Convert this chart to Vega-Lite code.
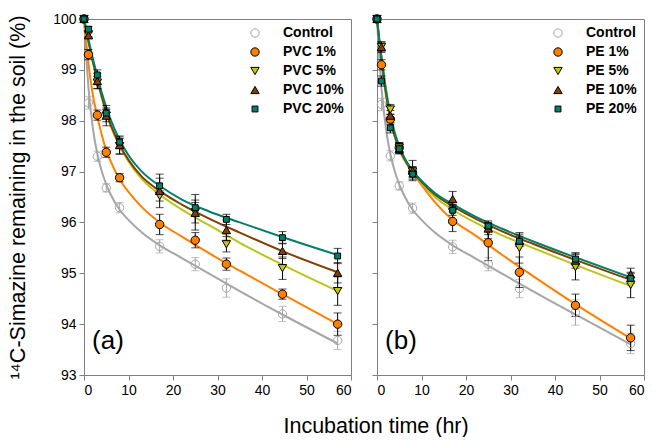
{
 "$schema": "https://vega.github.io/schema/vega-lite/v6.json",
 "padding": {"left": 7, "top": 11, "right": 4, "bottom": 0},
 "datasets": {
  "pts": [
   {"p":"a","s":"Control","t":0,"y":100,"e":0},
   {"p":"a","s":"Control","t":1,"y":98.35,"e":0.12},
   {"p":"a","s":"Control","t":3,"y":97.3,"e":0.1},
   {"p":"a","s":"Control","t":5,"y":96.68,"e":0.08},
   {"p":"a","s":"Control","t":8,"y":96.29,"e":0.1},
   {"p":"a","s":"Control","t":17,"y":95.53,"e":0.13},
   {"p":"a","s":"Control","t":25,"y":95.18,"e":0.13},
   {"p":"a","s":"Control","t":32,"y":94.71,"e":0.18},
   {"p":"a","s":"Control","t":44.6,"y":94.2,"e":0.15},
   {"p":"a","s":"Control","t":57,"y":93.68,"e":0.18},
   {"p":"a","s":"PVC 1%","t":0,"y":100,"e":0},
   {"p":"a","s":"PVC 1%","t":1,"y":99.3,"e":0.1},
   {"p":"a","s":"PVC 1%","t":3,"y":98.11,"e":0.1},
   {"p":"a","s":"PVC 1%","t":5,"y":97.38,"e":0.1},
   {"p":"a","s":"PVC 1%","t":8,"y":96.88,"e":0.08},
   {"p":"a","s":"PVC 1%","t":17,"y":95.96,"e":0.2},
   {"p":"a","s":"PVC 1%","t":25,"y":95.65,"e":0.15},
   {"p":"a","s":"PVC 1%","t":32,"y":95.18,"e":0.12},
   {"p":"a","s":"PVC 1%","t":44.6,"y":94.59,"e":0.1},
   {"p":"a","s":"PVC 1%","t":57,"y":94.0,"e":0.22},
   {"p":"a","s":"PVC 5%","t":0,"y":100,"e":0},
   {"p":"a","s":"PVC 5%","t":1,"y":99.7,"e":0.05},
   {"p":"a","s":"PVC 5%","t":3,"y":98.75,"e":0.12},
   {"p":"a","s":"PVC 5%","t":5,"y":98.1,"e":0.12},
   {"p":"a","s":"PVC 5%","t":8,"y":97.5,"e":0.15},
   {"p":"a","s":"PVC 5%","t":17,"y":96.52,"e":0.1},
   {"p":"a","s":"PVC 5%","t":25,"y":96.2,"e":0.35},
   {"p":"a","s":"PVC 5%","t":32,"y":95.57,"e":0.15},
   {"p":"a","s":"PVC 5%","t":44.6,"y":95.1,"e":0.22},
   {"p":"a","s":"PVC 5%","t":57,"y":94.65,"e":0.28},
   {"p":"a","s":"PVC 10%","t":0,"y":100,"e":0},
   {"p":"a","s":"PVC 10%","t":1,"y":99.68,"e":0.05},
   {"p":"a","s":"PVC 10%","t":3,"y":98.78,"e":0.15},
   {"p":"a","s":"PVC 10%","t":5,"y":98.1,"e":0.2},
   {"p":"a","s":"PVC 10%","t":8,"y":97.52,"e":0.18},
   {"p":"a","s":"PVC 10%","t":17,"y":96.62,"e":0.33},
   {"p":"a","s":"PVC 10%","t":25,"y":96.19,"e":0.2},
   {"p":"a","s":"PVC 10%","t":32,"y":95.85,"e":0.2},
   {"p":"a","s":"PVC 10%","t":44.6,"y":95.44,"e":0.15},
   {"p":"a","s":"PVC 10%","t":57,"y":95.01,"e":0.2},
   {"p":"a","s":"PVC 20%","t":0,"y":100,"e":0},
   {"p":"a","s":"PVC 20%","t":1,"y":99.8,"e":0.05},
   {"p":"a","s":"PVC 20%","t":3,"y":98.9,"e":0.1},
   {"p":"a","s":"PVC 20%","t":5,"y":98.15,"e":0.1},
   {"p":"a","s":"PVC 20%","t":8,"y":97.58,"e":0.1},
   {"p":"a","s":"PVC 20%","t":17,"y":96.72,"e":0.15},
   {"p":"a","s":"PVC 20%","t":25,"y":96.29,"e":0.15},
   {"p":"a","s":"PVC 20%","t":32,"y":96.06,"e":0.1},
   {"p":"a","s":"PVC 20%","t":44.6,"y":95.7,"e":0.12},
   {"p":"a","s":"PVC 20%","t":57,"y":95.34,"e":0.15},
   {"p":"b","s":"Control","t":0,"y":100,"e":0},
   {"p":"b","s":"Control","t":1,"y":98.32,"e":0.12},
   {"p":"b","s":"Control","t":3,"y":97.31,"e":0.1},
   {"p":"b","s":"Control","t":5,"y":96.72,"e":0.08},
   {"p":"b","s":"Control","t":8,"y":96.28,"e":0.1},
   {"p":"b","s":"Control","t":17,"y":95.52,"e":0.13},
   {"p":"b","s":"Control","t":25,"y":95.18,"e":0.13},
   {"p":"b","s":"Control","t":32,"y":94.7,"e":0.18},
   {"p":"b","s":"Control","t":44.6,"y":94.23,"e":0.25},
   {"p":"b","s":"Control","t":57,"y":93.62,"e":0.2},
   {"p":"b","s":"PE 1%","t":0,"y":100,"e":0},
   {"p":"b","s":"PE 1%","t":1,"y":99.1,"e":0.1},
   {"p":"b","s":"PE 1%","t":3,"y":98.03,"e":0.1},
   {"p":"b","s":"PE 1%","t":5,"y":97.47,"e":0.1},
   {"p":"b","s":"PE 1%","t":8,"y":96.98,"e":0.1},
   {"p":"b","s":"PE 1%","t":17,"y":96.02,"e":0.2},
   {"p":"b","s":"PE 1%","t":25,"y":95.6,"e":0.35},
   {"p":"b","s":"PE 1%","t":32,"y":95.02,"e":0.3},
   {"p":"b","s":"PE 1%","t":44.6,"y":94.37,"e":0.22},
   {"p":"b","s":"PE 1%","t":57,"y":93.73,"e":0.25},
   {"p":"b","s":"PE 5%","t":0,"y":100,"e":0},
   {"p":"b","s":"PE 5%","t":1,"y":99.45,"e":0.1},
   {"p":"b","s":"PE 5%","t":3,"y":98.22,"e":0.1},
   {"p":"b","s":"PE 5%","t":5,"y":97.47,"e":0.1},
   {"p":"b","s":"PE 5%","t":8,"y":97.0,"e":0.1},
   {"p":"b","s":"PE 5%","t":17,"y":96.2,"e":0.15},
   {"p":"b","s":"PE 5%","t":25,"y":95.83,"e":0.15},
   {"p":"b","s":"PE 5%","t":32,"y":95.5,"e":0.3},
   {"p":"b","s":"PE 5%","t":44.6,"y":95.12,"e":0.25},
   {"p":"b","s":"PE 5%","t":57,"y":94.77,"e":0.25},
   {"p":"b","s":"PE 10%","t":0,"y":100,"e":0},
   {"p":"b","s":"PE 10%","t":1,"y":99.45,"e":0.1},
   {"p":"b","s":"PE 10%","t":3,"y":98.1,"e":0.1},
   {"p":"b","s":"PE 10%","t":5,"y":97.45,"e":0.1},
   {"p":"b","s":"PE 10%","t":8,"y":97.02,"e":0.2},
   {"p":"b","s":"PE 10%","t":17,"y":96.46,"e":0.15},
   {"p":"b","s":"PE 10%","t":25,"y":95.88,"e":0.12},
   {"p":"b","s":"PE 10%","t":32,"y":95.65,"e":0.12},
   {"p":"b","s":"PE 10%","t":44.6,"y":95.25,"e":0.15},
   {"p":"b","s":"PE 10%","t":57,"y":94.98,"e":0.12},
   {"p":"b","s":"PE 20%","t":0,"y":100,"e":0},
   {"p":"b","s":"PE 20%","t":1,"y":98.78,"e":0.1},
   {"p":"b","s":"PE 20%","t":3,"y":97.86,"e":0.1},
   {"p":"b","s":"PE 20%","t":5,"y":97.45,"e":0.1},
   {"p":"b","s":"PE 20%","t":8,"y":96.95,"e":0.1},
   {"p":"b","s":"PE 20%","t":17,"y":96.24,"e":0.1},
   {"p":"b","s":"PE 20%","t":25,"y":95.93,"e":0.1},
   {"p":"b","s":"PE 20%","t":32,"y":95.63,"e":0.1},
   {"p":"b","s":"PE 20%","t":44.6,"y":95.28,"e":0.12},
   {"p":"b","s":"PE 20%","t":57,"y":94.9,"e":0.1}
  ],
  "fit": [
   {"p":"a","s":"Control","t":0,"y":100},{"p":"a","s":"Control","t":0.5,"y":99.25},{"p":"a","s":"Control","t":1,"y":98.65},{"p":"a","s":"Control","t":2,"y":97.85},{"p":"a","s":"Control","t":3,"y":97.35},{"p":"a","s":"Control","t":4,"y":97.0},{"p":"a","s":"Control","t":5,"y":96.75},{"p":"a","s":"Control","t":6,"y":96.55},{"p":"a","s":"Control","t":8,"y":96.25},{"p":"a","s":"Control","t":10,"y":96.05},{"p":"a","s":"Control","t":13,"y":95.8},{"p":"a","s":"Control","t":17,"y":95.55},{"p":"a","s":"Control","t":22,"y":95.3},{"p":"a","s":"Control","t":28,"y":95.0},{"p":"a","s":"Control","t":35,"y":94.65},{"p":"a","s":"Control","t":45,"y":94.17},{"p":"a","s":"Control","t":57,"y":93.62},
   {"p":"a","s":"PVC 1%","t":0,"y":100},{"p":"a","s":"PVC 1%","t":0.5,"y":99.55},{"p":"a","s":"PVC 1%","t":1,"y":99.12},{"p":"a","s":"PVC 1%","t":2,"y":98.5},{"p":"a","s":"PVC 1%","t":3,"y":98.08},{"p":"a","s":"PVC 1%","t":4,"y":97.72},{"p":"a","s":"PVC 1%","t":5,"y":97.42},{"p":"a","s":"PVC 1%","t":6,"y":97.2},{"p":"a","s":"PVC 1%","t":8,"y":96.85},{"p":"a","s":"PVC 1%","t":10,"y":96.6},{"p":"a","s":"PVC 1%","t":13,"y":96.3},{"p":"a","s":"PVC 1%","t":17,"y":96.0},{"p":"a","s":"PVC 1%","t":22,"y":95.72},{"p":"a","s":"PVC 1%","t":28,"y":95.4},{"p":"a","s":"PVC 1%","t":35,"y":95.05},{"p":"a","s":"PVC 1%","t":45,"y":94.57},{"p":"a","s":"PVC 1%","t":57,"y":94.0},
   {"p":"a","s":"PVC 5%","t":0,"y":100},{"p":"a","s":"PVC 5%","t":0.5,"y":99.78},{"p":"a","s":"PVC 5%","t":1,"y":99.55},{"p":"a","s":"PVC 5%","t":2,"y":99.15},{"p":"a","s":"PVC 5%","t":3,"y":98.8},{"p":"a","s":"PVC 5%","t":4,"y":98.45},{"p":"a","s":"PVC 5%","t":5,"y":98.15},{"p":"a","s":"PVC 5%","t":6,"y":97.9},{"p":"a","s":"PVC 5%","t":8,"y":97.5},{"p":"a","s":"PVC 5%","t":10,"y":97.2},{"p":"a","s":"PVC 5%","t":13,"y":96.85},{"p":"a","s":"PVC 5%","t":17,"y":96.55},{"p":"a","s":"PVC 5%","t":22,"y":96.25},{"p":"a","s":"PVC 5%","t":28,"y":95.95},{"p":"a","s":"PVC 5%","t":35,"y":95.6},{"p":"a","s":"PVC 5%","t":45,"y":95.15},{"p":"a","s":"PVC 5%","t":57,"y":94.65},
   {"p":"a","s":"PVC 10%","t":0,"y":100},{"p":"a","s":"PVC 10%","t":0.5,"y":99.78},{"p":"a","s":"PVC 10%","t":1,"y":99.56},{"p":"a","s":"PVC 10%","t":2,"y":99.16},{"p":"a","s":"PVC 10%","t":3,"y":98.8},{"p":"a","s":"PVC 10%","t":4,"y":98.47},{"p":"a","s":"PVC 10%","t":5,"y":98.17},{"p":"a","s":"PVC 10%","t":6,"y":97.92},{"p":"a","s":"PVC 10%","t":8,"y":97.53},{"p":"a","s":"PVC 10%","t":10,"y":97.23},{"p":"a","s":"PVC 10%","t":13,"y":96.9},{"p":"a","s":"PVC 10%","t":17,"y":96.62},{"p":"a","s":"PVC 10%","t":22,"y":96.35},{"p":"a","s":"PVC 10%","t":28,"y":96.08},{"p":"a","s":"PVC 10%","t":35,"y":95.8},{"p":"a","s":"PVC 10%","t":45,"y":95.42},{"p":"a","s":"PVC 10%","t":57,"y":95.02},
   {"p":"a","s":"PVC 20%","t":0,"y":100},{"p":"a","s":"PVC 20%","t":0.5,"y":99.8},{"p":"a","s":"PVC 20%","t":1,"y":99.6},{"p":"a","s":"PVC 20%","t":2,"y":99.22},{"p":"a","s":"PVC 20%","t":3,"y":98.88},{"p":"a","s":"PVC 20%","t":4,"y":98.55},{"p":"a","s":"PVC 20%","t":5,"y":98.27},{"p":"a","s":"PVC 20%","t":6,"y":98.02},{"p":"a","s":"PVC 20%","t":8,"y":97.62},{"p":"a","s":"PVC 20%","t":10,"y":97.32},{"p":"a","s":"PVC 20%","t":13,"y":97.0},{"p":"a","s":"PVC 20%","t":17,"y":96.72},{"p":"a","s":"PVC 20%","t":22,"y":96.45},{"p":"a","s":"PVC 20%","t":28,"y":96.22},{"p":"a","s":"PVC 20%","t":35,"y":96.0},{"p":"a","s":"PVC 20%","t":45,"y":95.7},{"p":"a","s":"PVC 20%","t":57,"y":95.36},
   {"p":"b","s":"Control","t":0,"y":100},{"p":"b","s":"Control","t":0.5,"y":99.25},{"p":"b","s":"Control","t":1,"y":98.65},{"p":"b","s":"Control","t":2,"y":97.85},{"p":"b","s":"Control","t":3,"y":97.35},{"p":"b","s":"Control","t":4,"y":97.0},{"p":"b","s":"Control","t":5,"y":96.75},{"p":"b","s":"Control","t":6,"y":96.55},{"p":"b","s":"Control","t":8,"y":96.25},{"p":"b","s":"Control","t":10,"y":96.05},{"p":"b","s":"Control","t":13,"y":95.8},{"p":"b","s":"Control","t":17,"y":95.55},{"p":"b","s":"Control","t":22,"y":95.3},{"p":"b","s":"Control","t":28,"y":95.0},{"p":"b","s":"Control","t":35,"y":94.65},{"p":"b","s":"Control","t":45,"y":94.17},{"p":"b","s":"Control","t":57,"y":93.6},
   {"p":"b","s":"PE 1%","t":0,"y":100},{"p":"b","s":"PE 1%","t":0.5,"y":99.55},{"p":"b","s":"PE 1%","t":1,"y":99.15},{"p":"b","s":"PE 1%","t":2,"y":98.5},{"p":"b","s":"PE 1%","t":3,"y":98.02},{"p":"b","s":"PE 1%","t":4,"y":97.68},{"p":"b","s":"PE 1%","t":5,"y":97.43},{"p":"b","s":"PE 1%","t":6,"y":97.25},{"p":"b","s":"PE 1%","t":8,"y":96.97},{"p":"b","s":"PE 1%","t":10,"y":96.74},{"p":"b","s":"PE 1%","t":13,"y":96.4},{"p":"b","s":"PE 1%","t":17,"y":96.05},{"p":"b","s":"PE 1%","t":22,"y":95.75},{"p":"b","s":"PE 1%","t":28,"y":95.37},{"p":"b","s":"PE 1%","t":35,"y":94.95},{"p":"b","s":"PE 1%","t":45,"y":94.37},{"p":"b","s":"PE 1%","t":57,"y":93.72},
   {"p":"b","s":"PE 5%","t":0,"y":100},{"p":"b","s":"PE 5%","t":0.5,"y":99.62},{"p":"b","s":"PE 5%","t":1,"y":99.28},{"p":"b","s":"PE 5%","t":2,"y":98.65},{"p":"b","s":"PE 5%","t":3,"y":98.15},{"p":"b","s":"PE 5%","t":4,"y":97.78},{"p":"b","s":"PE 5%","t":5,"y":97.5},{"p":"b","s":"PE 5%","t":6,"y":97.3},{"p":"b","s":"PE 5%","t":8,"y":97.0},{"p":"b","s":"PE 5%","t":10,"y":96.78},{"p":"b","s":"PE 5%","t":13,"y":96.5},{"p":"b","s":"PE 5%","t":17,"y":96.25},{"p":"b","s":"PE 5%","t":22,"y":96.0},{"p":"b","s":"PE 5%","t":28,"y":95.75},{"p":"b","s":"PE 5%","t":35,"y":95.5},{"p":"b","s":"PE 5%","t":45,"y":95.15},{"p":"b","s":"PE 5%","t":57,"y":94.75},
   {"p":"b","s":"PE 10%","t":0,"y":100},{"p":"b","s":"PE 10%","t":0.5,"y":99.58},{"p":"b","s":"PE 10%","t":1,"y":99.2},{"p":"b","s":"PE 10%","t":2,"y":98.55},{"p":"b","s":"PE 10%","t":3,"y":98.05},{"p":"b","s":"PE 10%","t":4,"y":97.7},{"p":"b","s":"PE 10%","t":5,"y":97.45},{"p":"b","s":"PE 10%","t":6,"y":97.27},{"p":"b","s":"PE 10%","t":8,"y":97.0},{"p":"b","s":"PE 10%","t":10,"y":96.8},{"p":"b","s":"PE 10%","t":13,"y":96.55},{"p":"b","s":"PE 10%","t":17,"y":96.32},{"p":"b","s":"PE 10%","t":22,"y":96.08},{"p":"b","s":"PE 10%","t":28,"y":95.83},{"p":"b","s":"PE 10%","t":35,"y":95.58},{"p":"b","s":"PE 10%","t":45,"y":95.25},{"p":"b","s":"PE 10%","t":57,"y":94.87},
   {"p":"b","s":"PE 20%","t":0,"y":100},{"p":"b","s":"PE 20%","t":0.5,"y":99.6},{"p":"b","s":"PE 20%","t":1,"y":99.25},{"p":"b","s":"PE 20%","t":2,"y":98.6},{"p":"b","s":"PE 20%","t":3,"y":98.1},{"p":"b","s":"PE 20%","t":4,"y":97.75},{"p":"b","s":"PE 20%","t":5,"y":97.5},{"p":"b","s":"PE 20%","t":6,"y":97.3},{"p":"b","s":"PE 20%","t":8,"y":97.02},{"p":"b","s":"PE 20%","t":10,"y":96.82},{"p":"b","s":"PE 20%","t":13,"y":96.58},{"p":"b","s":"PE 20%","t":17,"y":96.36},{"p":"b","s":"PE 20%","t":22,"y":96.12},{"p":"b","s":"PE 20%","t":28,"y":95.88},{"p":"b","s":"PE 20%","t":35,"y":95.63},{"p":"b","s":"PE 20%","t":45,"y":95.3},{"p":"b","s":"PE 20%","t":57,"y":94.92}
  ]
 },
 "title": {"text": "Incubation time (hr)", "orient": "bottom", "anchor": "middle", "fontSize": 21.5, "font": "Liberation Sans", "fontWeight": "normal", "color": "#000", "offset": 18, "dx": 50},
 "spacing": 18,
 "hconcat": [
  {
   "width": 267, "height": 356,
   "encoding": {
    "x": {"field": "t", "type": "quantitative", "scale": {"domain": [0, 60]}, "axis": {"title": null, "values": [0,10,20,30,40,50,60]}},
    "y": {"field": "y", "type": "quantitative", "scale": {"domain": [93, 100]}, "axis": {"title": "¹⁴C-Simazine remaining in the soil (%)", "titlePadding": 23, "values": [93,94,95,96,97,98,99,100]}}
   },
   "layer": [
    {"data": {"name": "fit"}, "transform": [{"filter": "datum.p === 'a'"}],
     "mark": {"type": "line", "interpolate": "monotone", "strokeWidth": 2},
     "encoding": {
      "color": {"field": "s", "type": "nominal", "scale": {"domain": ["PVC 20%","PVC 10%","PVC 5%","PVC 1%","Control"], "range": ["#00806b","#7f4000","#bcc41c","#ff8000","#a6a6a6"]}, "legend": null}
     }},
    {"data": {"name": "pts"}, "transform": [{"filter": "datum.p === 'a' && datum.s === 'Control' && datum.e > 0"}],
     "mark": {"type": "errorbar", "ticks": {"size": 8}, "color": "#a6a6a6", "thickness": 1},
     "encoding": {"yError": {"field": "e"}}},
    {"data": {"name": "pts"}, "transform": [{"filter": "datum.p === 'a' && datum.s !== 'Control' && datum.e > 0"}],
     "mark": {"type": "errorbar", "ticks": {"size": 8}, "color": "#000000", "thickness": 1},
     "encoding": {"yError": {"field": "e"}}},
    {"data": {"name": "pts"}, "transform": [{"filter": "datum.p === 'a'"}],
     "mark": {"type": "point", "filled": true, "strokeWidth": 1, "opacity": 1, "size": 70},
     "encoding": {
      "shape": {"field": "s", "type": "nominal", "scale": {"domain": ["Control","PVC 1%","PVC 5%","PVC 10%","PVC 20%"], "range": ["circle","circle","triangle-down","triangle-up","M-0.7,-0.7H0.7V0.7H-0.7Z"]}, "legend": {"orient": "top-right", "title": null}},
      "fill": {"field": "s", "type": "nominal", "scale": {"domain": ["Control","PVC 1%","PVC 5%","PVC 10%","PVC 20%"], "range": ["transparent","#ff8000","#c8c800","#7f4000","#00806b"]}, "legend": {"orient": "top-right", "title": null}},
      "stroke": {"field": "s", "type": "nominal", "scale": {"domain": ["Control","PVC 1%","PVC 5%","PVC 10%","PVC 20%"], "range": ["#a6a6a6","#000000","#000000","#000000","#000000"]}, "legend": {"orient": "top-right", "title": null}}
     }},
    {"data": {"values": [{"t": 1.8, "y": 93.67, "lab": "(a)"}]},
     "mark": {"type": "text", "align": "left", "baseline": "middle", "fontSize": 26, "font": "Liberation Sans", "color": "#000"},
     "encoding": {"text": {"field": "lab"}}}
   ]
  },
  {
   "width": 267, "height": 356,
   "encoding": {
    "x": {"field": "t", "type": "quantitative", "scale": {"domain": [0, 60]}, "axis": {"title": null, "values": [0,10,20,30,40,50,60]}},
    "y": {"field": "y", "type": "quantitative", "scale": {"domain": [93, 100]}, "axis": {"title": null, "labels": false, "values": [93,94,95,96,97,98,99,100]}}
   },
   "layer": [
    {"data": {"name": "fit"}, "transform": [{"filter": "datum.p === 'b'"}],
     "mark": {"type": "line", "interpolate": "monotone", "strokeWidth": 2},
     "encoding": {
      "color": {"field": "s", "type": "nominal", "scale": {"domain": ["PE 20%","PE 10%","PE 5%","PE 1%","Control"], "range": ["#00806b","#7f4000","#bcc41c","#ff8000","#a6a6a6"]}, "legend": null}
     }},
    {"data": {"name": "pts"}, "transform": [{"filter": "datum.p === 'b' && datum.s === 'Control' && datum.e > 0"}],
     "mark": {"type": "errorbar", "ticks": {"size": 8}, "color": "#a6a6a6", "thickness": 1},
     "encoding": {"yError": {"field": "e"}}},
    {"data": {"name": "pts"}, "transform": [{"filter": "datum.p === 'b' && datum.s !== 'Control' && datum.e > 0"}],
     "mark": {"type": "errorbar", "ticks": {"size": 8}, "color": "#000000", "thickness": 1},
     "encoding": {"yError": {"field": "e"}}},
    {"data": {"name": "pts"}, "transform": [{"filter": "datum.p === 'b'"}],
     "mark": {"type": "point", "filled": true, "strokeWidth": 1, "opacity": 1, "size": 70},
     "encoding": {
      "shape": {"field": "s", "type": "nominal", "scale": {"domain": ["Control","PE 1%","PE 5%","PE 10%","PE 20%"], "range": ["circle","circle","triangle-down","triangle-up","M-0.7,-0.7H0.7V0.7H-0.7Z"]}, "legend": {"orient": "top-right", "title": null}},
      "fill": {"field": "s", "type": "nominal", "scale": {"domain": ["Control","PE 1%","PE 5%","PE 10%","PE 20%"], "range": ["transparent","#ff8000","#c8c800","#7f4000","#00806b"]}, "legend": {"orient": "top-right", "title": null}},
      "stroke": {"field": "s", "type": "nominal", "scale": {"domain": ["Control","PE 1%","PE 5%","PE 10%","PE 20%"], "range": ["#a6a6a6","#000000","#000000","#000000","#000000"]}, "legend": {"orient": "top-right", "title": null}}
     }},
    {"data": {"values": [{"t": 1.8, "y": 93.67, "lab": "(b)"}]},
     "mark": {"type": "text", "align": "left", "baseline": "middle", "fontSize": 26, "font": "Liberation Sans", "color": "#000"},
     "encoding": {"text": {"field": "lab"}}}
   ]
  }
 ],
 "resolve": {
  "scale": {"color": "independent", "fill": "independent", "stroke": "independent", "shape": "independent"},
  "legend": {"color": "independent", "fill": "independent", "stroke": "independent", "shape": "independent"}
 },
 "config": {
  "font": "Liberation Sans",
  "view": {"stroke": "#808080", "strokeWidth": 1},
  "axis": {"grid": false, "domainColor": "#808080", "tickColor": "#808080", "tickSize": 5, "labelFont": "Liberation Sans", "labelFontSize": 14, "labelColor": "#000", "titleFont": "Liberation Sans", "titleFontSize": 21.5, "titleFontWeight": "normal", "titleColor": "#000", "labelPadding": 3},
  "legend": {"labelFont": "Liberation Sans", "labelFontSize": 14, "labelFontWeight": "bold", "labelColor": "#000", "rowPadding": 5, "labelOffset": 21, "symbolStrokeWidth": 1, "symbolSize": 70, "offset": 7, "padding": 0}
 }
}
